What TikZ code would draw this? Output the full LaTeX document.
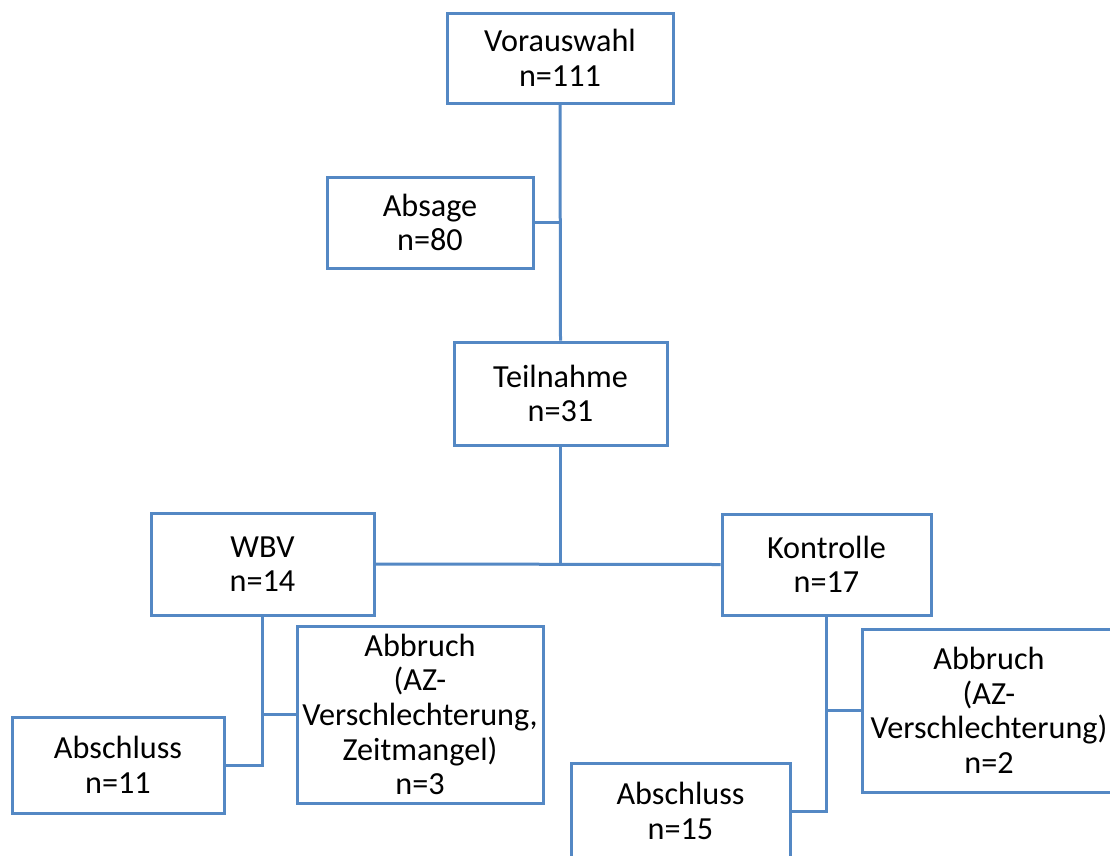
\documentclass[tikz,border=0pt]{standalone}
\usepackage{fontspec}
\setmainfont{Carlito}
\definecolor{boxblue}{RGB}{84,136,196}
\begin{document}
\begin{tikzpicture}[x=1pt,y=1pt,
  box/.style={draw=boxblue, line width=3pt, fill=white, inner sep=0pt,
    align=center, font=\fontsize{32.2}{34.6}\selectfont},
  link/.style={draw=boxblue, line width=3pt}]
\clip (0,0) rectangle (1110,-855);
\fill[white] (0,0) rectangle (1110,-855);
\node[box, minimum width=226, minimum height=90] (vor) at (560,-58) {Vorauswahl\\n=111};
\node[box, minimum width=206, minimum height=91] (abs) at (430,-222.5) {Absage\\n=80};
\node[box, minimum width=213, minimum height=103] (teil) at (560.5,-393.5) {Teilnahme\\n=31};
\node[box, minimum width=223, minimum height=102] (wbv) at (262.5,-564) {WBV\\n=14};
\node[box, minimum width=209, minimum height=101] (kon) at (826.5,-564.5) {Kontrolle\\n=17};
\node[box, minimum width=212, minimum height=96] (absa) at (118,-765) {Abschluss\\n=11};
\node[box, minimum width=246, minimum height=177] (abba) at (420,-714.5) {Abbruch\\(AZ-\\Verschlechterung,\\Zeitmangel)\\n=3};
\node[box, minimum width=219, minimum height=96] (absb) at (680.5,-811) {Abschluss\\n=15};
\node[box, minimum width=254, minimum height=163] (abbb) at (989,-710.5) {Abbruch\\(AZ-\\Verschlechterung)\\n=2};
\path[link] (vor.south) -- (teil.north);
\path[link] (abs.east) -- (vor.south |- abs.east);
\path[link] (wbv.east) -- (kon.west);
\path[link] (teil.south) -- (teil.south |- wbv.east);
\path[link] (wbv.south) |- (absa.east);
\path[link] (abba.west) -- (wbv.south |- abba.west);
\path[link] (kon.south) |- (absb.east);
\path[link] (abbb.west) -- (kon.south |- abbb.west);
\end{tikzpicture}
\end{document}
